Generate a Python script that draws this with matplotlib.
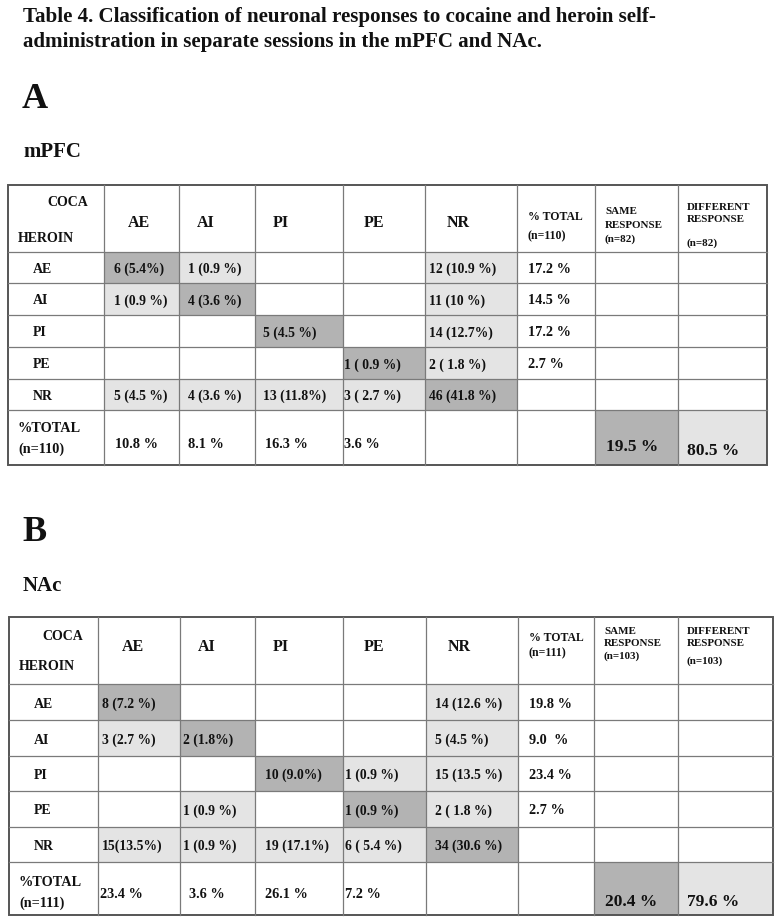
import matplotlib
matplotlib.use('Agg')
import matplotlib.pyplot as plt
from matplotlib.patches import Rectangle

plt.rcParams['font.family'] = ['Liberation Serif', 'DejaVu Serif']
plt.rcParams['font.weight'] = 'bold'

title_lines = ['Table 4. Classification of neuronal responses to cocaine and heroin self-',
               'administration in separate sessions in the mPFC and NAc.']

categories = ['AE', 'AI', 'PI', 'PE', 'NR']

# rows = heroin response, columns = cocaine response
mpfc_cells = [['6 (5.4%)', '1 (0.9 %)', '', '', '12 (10.9 %)'],
              ['1 (0.9 %)', '4 (3.6 %)', '', '', '11 (10 %)'],
              ['', '', '5 (4.5 %)', '', '14 (12.7%)'],
              ['', '', '', '1 ( 0.9 %)', '2 ( 1.8 %)'],
              ['5 (4.5 %)', '4 (3.6 %)', '13 (11.8%)', '3 ( 2.7 %)', '46 (41.8 %)']]
mpfc_row_total = ['17.2 %', '14.5 %', '17.2 %', '2.7 %', '']
mpfc_col_total = ['10.8 %', '8.1 %', '16.3 %', '3.6 %', '']
mpfc_n = '(n=110)'
mpfc_resp_n = '(n=82)'
mpfc_same = '19.5 %'
mpfc_diff = '80.5 %'

nac_cells = [['8 (7.2 %)', '', '', '', '14 (12.6 %)'],
             ['3 (2.7 %)', '2 (1.8%)', '', '', '5 (4.5 %)'],
             ['', '', '10 (9.0%)', '1 (0.9 %)', '15 (13.5 %)'],
             ['', '1 (0.9 %)', '', '1 (0.9 %)', '2 ( 1.8 %)'],
             ['15(13.5%)', '1 (0.9 %)', '19 (17.1%)', '6 ( 5.4 %)', '34 (30.6 %)']]
nac_row_total = ['19.8 %', '9.0  %', '23.4 %', '2.7 %', '']
nac_col_total = ['23.4 %', '3.6 %', '26.1 %', '7.2 %', '']
nac_n = '(n=111)'
nac_resp_n = '(n=103)'
nac_same = '20.4 %'
nac_diff = '79.6 %'

DARK = '#b3b3b3'
LIGHT = '#e4e4e4'
LINE = '#7a7a7a'

layout_a = dict(cols=[8, 104, 179, 255, 343, 425, 517, 595, 678, 767],
                rows=[185, 252, 283, 315, 347, 379, 410, 465],
                coca=18, heroin=54, head=38, tot=(32, 51), same=(26, 40, 54), diff=(22, 35, 58),
                coca_x=39, val_dx=[10, 9, 8, 1, 4], ctot_dx=[11, 9, 10, 1],
                last=(19, 39, 34, 37, 41))
layout_b = dict(cols=[9, 98, 180, 255, 343, 426, 518, 594, 678, 773],
                rows=[617, 684, 720, 756, 791, 827, 862, 915],
                coca=20, heroin=49, head=30, tot=(21, 36), same=(15, 27, 39), diff=(15, 27, 44),
                coca_x=33, val_dx=[4, 3, 10, 2, 9], ctot_dx=[2, 9, 10, 2],
                last=(20, 41, 32, 40, 40))


def txt(ax, x, y, s, size, va='center'):
    ax.text(x, y, s, fontsize=size, fontweight='bold', ha='left', va=va, color='#111111')


def draw_table(ax, lay, cells, row_total, col_total, n_txt, resp_n, same, diff):
    cols, rows = lay['cols'], lay['rows']
    # shading
    for i in range(5):
        for j in range(5):
            if cells[i][j]:
                c = DARK if i == j else LIGHT
                ax.add_patch(Rectangle((cols[j + 1], rows[i + 1]), cols[j + 2] - cols[j + 1],
                                       rows[i + 2] - rows[i + 1], color=c, lw=0))
    ax.add_patch(Rectangle((cols[7], rows[6]), cols[8] - cols[7], rows[7] - rows[6], color=DARK, lw=0))
    ax.add_patch(Rectangle((cols[8], rows[6]), cols[9] - cols[8], rows[7] - rows[6], color=LIGHT, lw=0))
    # grid
    for x in cols[1:-1]:
        ax.plot([x, x], [rows[0], rows[-1]], color=LINE, lw=0.9)
    for y in rows[1:-1]:
        ax.plot([cols[0], cols[-1]], [y, y], color=LINE, lw=0.9)
    ax.add_patch(Rectangle((cols[0], rows[0]), cols[-1] - cols[0], rows[-1] - rows[0],
                           fill=False, ec='#555555', lw=1.4))
    # header row
    top = rows[0]
    txt(ax, cols[0] + lay['coca_x'], top + lay['coca'], 'COCA', 10)
    txt(ax, cols[0] + 10, top + lay['heroin'], 'HEROIN', 10)
    head_dx = [24, 18, 18, 21, 22]
    for j, cat in enumerate(categories):
        txt(ax, cols[j + 1] + head_dx[j], top + lay['head'], cat, 11.5)
    txt(ax, cols[6] + 11, top + lay['tot'][0], '% TOTAL', 8.5)
    txt(ax, cols[6] + 11, top + lay['tot'][1], n_txt, 8.5)
    for k, s in enumerate(['SAME', 'RESPONSE', resp_n]):
        txt(ax, cols[7] + 10, top + lay['same'][k], s, 7.9)
    for k, s in enumerate(['DIFFERENT', 'RESPONSE', resp_n]):
        txt(ax, cols[8] + 9, top + lay['diff'][k], s, 7.9)
    # body rows
    for i, cat in enumerate(categories):
        yc = (rows[i + 1] + rows[i + 2]) / 2 + 2
        txt(ax, cols[0] + 25, yc, cat, 10)
        for j in range(5):
            if cells[i][j]:
                txt(ax, cols[j + 1] + lay['val_dx'][j], yc, cells[i][j], 9.8)
        if row_total[i]:
            txt(ax, cols[6] + 11, yc, row_total[i], 10.3)
    # total row
    lt = rows[6]
    txt(ax, cols[0] + 10, lt + lay['last'][0], '%TOTAL', 10.3)
    txt(ax, cols[0] + 10, lt + lay['last'][1], n_txt, 10.3)
    for j in range(4):
        txt(ax, cols[j + 1] + lay['ctot_dx'][j], lt + lay['last'][2], col_total[j], 10.3)
    txt(ax, cols[7] + 11, lt + lay['last'][3], same, 12.5)
    txt(ax, cols[8] + 9, lt + lay['last'][4], diff, 12.5)


fig = plt.figure(figsize=(7.78, 9.23), dpi=100)
ax = fig.add_axes([0, 0, 1, 1])
ax.set_xlim(0, 778)
ax.set_ylim(923, 0)
ax.axis('off')

txt(ax, 23, 22, title_lines[0], 15.1, va='baseline')
txt(ax, 23, 47, title_lines[1], 15.1, va='baseline')
txt(ax, 22, 108, 'A', 26, va='baseline')
txt(ax, 23, 157, 'mPFC', 15, va='baseline')
txt(ax, 22, 541, 'B', 26, va='baseline')
txt(ax, 23, 591, 'NAc', 15, va='baseline')

draw_table(ax, layout_a, mpfc_cells, mpfc_row_total, mpfc_col_total, mpfc_n, mpfc_resp_n,
           mpfc_same, mpfc_diff)
draw_table(ax, layout_b, nac_cells, nac_row_total, nac_col_total, nac_n, nac_resp_n,
           nac_same, nac_diff)

fig.savefig('out.png', dpi=100)
